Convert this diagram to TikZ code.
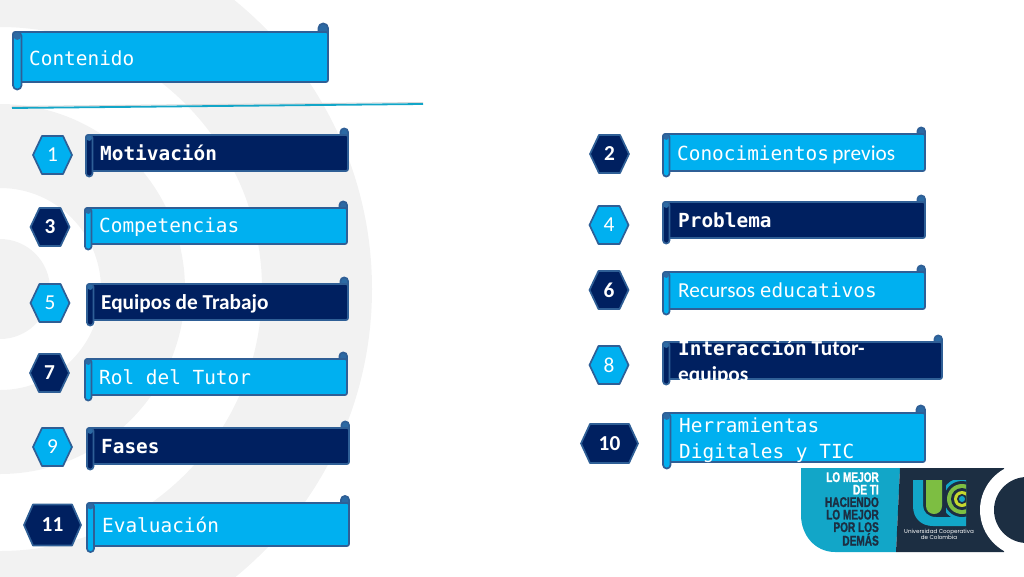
\documentclass[tikz,border=0pt]{standalone}
\usepackage{fontspec}
\setmainfont{Carlito}
\newfontfamily\monof{DejaVu Sans Mono}
\newfontfamily\logof[FakeStretch=0.72,BoldFeatures={FakeBold=1.3}]{Liberation Sans}
\newfontfamily\ucf{Poppins}
\definecolor{celeste}{HTML}{00B0F0}
\definecolor{marino}{HTML}{002060}
\definecolor{borde}{HTML}{2F5F96}
\definecolor{rizo}{HTML}{2C6AA4}
\definecolor{anillo}{HTML}{F2F2F2}
\definecolor{turquesa}{HTML}{12A6C8}
\definecolor{oscuro}{HTML}{1C2E42}
\definecolor{verdeuc}{HTML}{7DBE42}
\definecolor{limauc}{HTML}{C5D82E}
\newcommand{\mono}{\monof\fontsize{19.4}{26}\selectfont}
\newcommand{\cali}{\rmfamily\fontsize{21.3}{26}\selectfont}
% ribbon: style, left, top, right, bottom, roll width
\newcommand{\ribbon}[6]{
	\draw[rollline, fill=rizo, rounded corners={#6/2+0.3}] ({#4-#6-1},{#3-#6}) rectangle (#4,{#3+#6});
	\draw[rollline, #1, rounded corners=2] (#2,#3) rectangle (#4,#5);
	\draw[rollline, #1, rounded corners={#6/2-0.1}] (#2,#3) rectangle ({#2+#6},{#5+#6-1});
	\fill[rizo] ({#2+#6/2},{#3+#6/2}) circle ({#6/2-0.6});
}
% hexagon: name, x, y, half width, half height, style, text
\newcommand{\hexa}[7]{
	\draw[rollline, #6] ({#2-#4},#3) -- ({#2-#4+9},{#3-#5}) -- ({#2+#4-9},{#3-#5}) -- ({#2+#4},#3) -- ({#2+#4-9},{#3+#5}) -- ({#2-#4+9},{#3+#5}) -- cycle;
	\node[numtext] (#1) at (#2,#3) {#7};
}
\tikzset{
	rollline/.style={draw=borde, line width=1.7pt, line join=round},
	clarobox/.style={fill=celeste},
	oscurobox/.style={fill=marino},
	numtext/.style={text=white, inner sep=0pt},
	lbl/.style={text=white, anchor=base west, inner sep=0pt},
	logotxt/.style={anchor=north east, align=right, inner sep=0pt, font=\logof\bfseries\fontsize{14}{12.5}\selectfont},
}
\begin{document}
\begin{tikzpicture}[x=1pt,y=-1pt]
	\useasboundingbox (0,0) rectangle (1024,576);
	\begin{scope}
		\clip (0,0) rectangle (1024,576);
		\fill[anillo, even odd rule] (0,289) circle (372) (0,289) circle (262);
		\fill[anillo, even odd rule] (0,289) circle (185) (0,289) circle (101);
		\fill[anillo] (0,289) circle (50);
		% logo
		\fill[turquesa] (801,468) -- (900,468) -- (896,552) -- (835,552) .. controls (815,552) and (801,535) .. (801,515) -- cycle;
		\fill[oscuro] (900,468) -- (1004,468) -- (1004,552) -- (896,552) -- cycle;
		\fill[white] (1027,510) circle (47);
		\fill[oscuro] (1027,510) circle (33);
	\end{scope}
	\coordinate (ruleL) at (12,108);
	\coordinate (ruleR) at (423,104);
	\draw[black!15, line width=1pt] ([yshift=1.5pt]ruleL) -- ([yshift=1.5pt]ruleR);
	\draw[turquesa, line width=1.8pt] (ruleL) -- (ruleR);
	% left column
	\ribbon{clarobox}{13}{32}{328}{82}{8.5}
	\node[lbl] (titulo) at (29,65) {\mono Contenido};
	\ribbon{oscurobox}{86}{135}{348}{171}{6.5}
	\node[lbl] (motiv) at (100,160) {\mono\bfseries Motivación};
	\ribbon{clarobox}{85}{208}{347}{244}{6.5}
	\node[lbl] (compet) at (99,232) {\mono Competencias};
	\ribbon{oscurobox}{87}{284}{348}{320}{6.5}
	\node[lbl] (equipos) at (101,309) {\cali\bfseries Equipos de Trabajo};
	\ribbon{clarobox}{85}{359}{347}{395}{6.5}
	\node[lbl] (rol) at (99,384) {\mono Rol del Tutor};
	\ribbon{oscurobox}{87}{428}{349}{464}{6.5}
	\node[lbl] (fases) at (101,453) {\mono\bfseries Fases};
	\ribbon{clarobox}{87}{503}{349}{546}{7}
	\node[lbl] (evalua) at (102,532) {\mono Evaluación};
	% right column
	\ribbon{clarobox}{663}{134}{925}{171}{6.5}
	\node[lbl] (conoc) at (677,160) {\mono Conocimientos\,\cali previos};
	\ribbon{oscurobox}{663}{202}{925}{238}{6.5}
	\node[lbl] (problema) at (678,227) {\mono\bfseries Problema};
	\ribbon{clarobox}{663}{272}{925}{309}{6.5}
	\node[lbl] (recursos) at (678,297) {\cali Recursos \mono educativos};
	\ribbon{oscurobox}{663}{342}{942}{379}{6.5}
	\node[lbl] (interA) at (678,355) {\mono\bfseries Interacción\cali\bfseries\ Tutor-};
	\node[lbl] (interB) at (678,381) {\cali\bfseries equipos};
	\ribbon{clarobox}{663}{413}{925}{462}{7.5}
	\node[lbl] (herrA) at (679,432) {\mono Herramientas};
	\node[lbl] (herrB) at (679,458) {\mono Digitales y TIC};
	% numbers
	\hexa{n1}{52.5}{155}{19.5}{19}{clarobox}{\cali 1}
	\hexa{n3}{50}{227}{19.5}{19}{oscurobox}{\cali\bfseries 3}
	\hexa{n5}{50}{303}{19.5}{19}{clarobox}{\cali 5}
	\hexa{n7}{49.5}{373}{19.5}{19}{oscurobox}{\cali\bfseries 7}
	\hexa{n9}{52.5}{447}{19.5}{19}{clarobox}{\cali 9}
	\hexa{n11}{52.5}{525}{28.5}{20.5}{oscurobox}{\cali\bfseries 11}
	\hexa{n2}{609.5}{154}{19.5}{19}{oscurobox}{\cali\bfseries 2}
	\hexa{n4}{609}{225}{19.5}{19}{clarobox}{\cali 4}
	\hexa{n6}{609}{290}{19.5}{19}{oscurobox}{\cali\bfseries 6}
	\hexa{n8}{609}{365}{19.5}{19}{clarobox}{\cali 8}
	\hexa{n10}{609.5}{443.5}{28.5}{19.5}{oscurobox}{\cali\bfseries 10}
	% logo text
	\node[logotxt, text=oscuro] (lema) at (879,472) {\textcolor{white}{LO MEJOR}\\\textcolor{white}{DE TI}\\HACIENDO\\LO MEJOR\\POR LOS\\DEMÁS};
	% logo mark
	\fill[turquesa] (913,480) -- (913,506) .. controls (913,518) and (921,526) .. (933,526) -- (966,526) -- (966,517) -- (936,517) .. controls (928,517) and (923,512) .. (923,505) -- (923,480) -- cycle;
	\fill[verdeuc] (926,480) -- (942,480) -- (942,506) .. controls (942,511) and (938,514) .. (934,514) .. controls (930,514) and (926,511) .. (926,506) -- cycle;
	\begin{scope}
		\clip (946,480) rectangle (966,517);
		\fill[turquesa] (962,499) circle (21);
		\fill[oscuro] (962,499) circle (18);
		\fill[verdeuc] (962,499) circle (15);
		\fill[oscuro] (962,499) circle (11);
		\fill[limauc] (962,499) circle (8);
		\fill[oscuro] (962,499) circle (5);
		\fill[turquesa] (962,499) circle (3);
	\end{scope}
	\node[text=white, inner sep=0pt, align=center, font=\ucf\fontsize{5.6}{6.5}\selectfont] (ucname) at (939,534.5) {Universidad Cooperativa\\de Colombia};
\end{tikzpicture}
\end{document}
